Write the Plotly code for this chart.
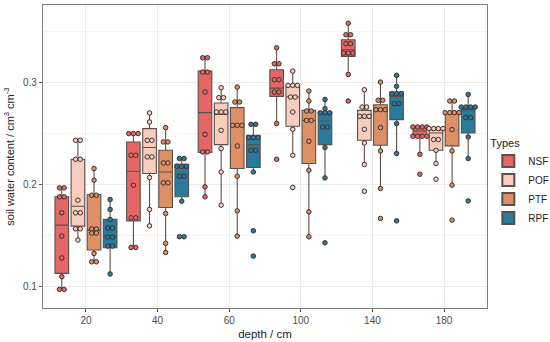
import plotly.graph_objects as go

depths = ["20", "40", "60", "100", "140", "180"]
types = ["NSF", "POF", "PTF", "RPF"]
colors = ["#E46766", "#F8CDBD", "#DD9066", "#2A7A9C"]

# box statistics (lower whisker, q1, median, q3, upper whisker) per depth
NSF_lo = [0.0967, 0.1385, 0.1876, 0.2595, 0.3078, 0.2294]
NSF_q1 = [0.1124, 0.1640, 0.2311, 0.2863, 0.3255, 0.2471]
NSF_med = [0.1598, 0.2127, 0.2703, 0.2944, 0.3320, 0.2523]
NSF_q3 = [0.1876, 0.2415, 0.3111, 0.3124, 0.3419, 0.2562]
NSF_hi = [0.1964, 0.2497, 0.3242, 0.3340, 0.3581, 0.2562]

POF_lo = [0.1451, 0.1591, 0.1794, 0.2284, 0.2193, 0.2203]
POF_q1 = [0.1588, 0.2105, 0.2389, 0.2569, 0.2431, 0.2333]
POF_med = [0.1784, 0.2360, 0.2686, 0.2856, 0.2654, 0.2503]
POF_q3 = [0.2245, 0.2546, 0.2798, 0.2971, 0.2725, 0.2536]
POF_hi = [0.2431, 0.2700, 0.2948, 0.3111, 0.2928, 0.2546]

PTF_lo = [0.1238, 0.1330, 0.1490, 0.1484, 0.1958, 0.1990]
PTF_q1 = [0.1353, 0.1771, 0.2154, 0.2203, 0.2382, 0.2376]
PTF_med = [0.1549, 0.2120, 0.2578, 0.2627, 0.2732, 0.2693]
PTF_q3 = [0.1899, 0.2333, 0.2752, 0.2725, 0.2781, 0.2703]
PTF_hi = [0.2154, 0.2556, 0.2954, 0.2915, 0.3003, 0.2817]

RPF_lo = [0.1118, 0.1833, 0.2120, 0.2062, 0.2301, 0.2252]
RPF_q1 = [0.1376, 0.1876, 0.2164, 0.2389, 0.2634, 0.2503]
RPF_med = [0.1490, 0.2160, 0.2389, 0.2621, 0.2863, 0.2732]
RPF_q3 = [0.1654, 0.2196, 0.2480, 0.2709, 0.2905, 0.2758]
RPF_hi = [0.1850, 0.2252, 0.2588, 0.2833, 0.3069, 0.2882]

# observations per depth
NSF_points = [
    [0.1964, 0.1964, 0.1876, 0.1876, 0.1719, 0.149, 0.1275, 0.1091, 0.0967, 0.0967],
    [0.2497, 0.2497, 0.2497, 0.2284, 0.2284, 0.199, 0.167, 0.167, 0.1379, 0.1379],
    [0.3242, 0.3242, 0.3101, 0.3101, 0.2905, 0.249, 0.2317, 0.2317, 0.1974, 0.1876],
    [0.334, 0.3183, 0.3183, 0.3026, 0.3026, 0.2905, 0.2905, 0.2595, 0.2245],
    [0.3581, 0.3468, 0.3468, 0.338, 0.338, 0.3288, 0.3288, 0.3288, 0.3078, 0.2817],
    [0.2562, 0.2562, 0.2562, 0.2562, 0.2471, 0.2471, 0.2471, 0.2471, 0.2294, 0.2098],
]
POF_points = [
    [0.2431, 0.2431, 0.2245, 0.2245, 0.1843, 0.1719, 0.1719, 0.1562, 0.1562, 0.1451],
    [0.27, 0.2611, 0.2431, 0.2431, 0.2268, 0.2268, 0.2066, 0.1752, 0.1591],
    [0.2948, 0.285, 0.285, 0.2709, 0.2709, 0.2709, 0.2529, 0.235, 0.212, 0.1794],
    [0.3111, 0.2971, 0.2971, 0.2971, 0.2856, 0.2856, 0.2709, 0.2539, 0.2284, 0.1968],
    [0.2928, 0.2758, 0.2758, 0.2667, 0.2667, 0.2667, 0.2539, 0.2405, 0.2193, 0.1931],
    [0.2546, 0.2546, 0.2546, 0.2546, 0.2438, 0.2438, 0.2333, 0.2203, 0.2049],
]
PTF_points = [
    [0.2154, 0.2039, 0.1892, 0.1892, 0.156, 0.156, 0.152, 0.152, 0.132, 0.1238, 0.1238],
    [0.2556, 0.2415, 0.2415, 0.2209, 0.2209, 0.2013, 0.2013, 0.1712, 0.1419, 0.133],
    [0.2954, 0.2807, 0.2807, 0.2578, 0.2578, 0.2578, 0.2375, 0.2078, 0.1738, 0.149],
    [0.2915, 0.2817, 0.2719, 0.2719, 0.2627, 0.2627, 0.2422, 0.2137, 0.1729, 0.1484],
    [0.3003, 0.2824, 0.2824, 0.2732, 0.2732, 0.2732, 0.2556, 0.2327, 0.1958, 0.1664],
    [0.2817, 0.2817, 0.2703, 0.2703, 0.2703, 0.2703, 0.2536, 0.2327, 0.199, 0.1647],
]
RPF_points = [
    [0.185, 0.1752, 0.1654, 0.157, 0.157, 0.148, 0.148, 0.1392, 0.1392, 0.1118],
    [0.2252, 0.2252, 0.2176, 0.2176, 0.2176, 0.2078, 0.2078, 0.1833, 0.1484, 0.1484],
    [0.2588, 0.2588, 0.2458, 0.2458, 0.2458, 0.2333, 0.2333, 0.212, 0.1542, 0.1294],
    [0.2833, 0.2742, 0.2701, 0.2701, 0.2701, 0.2562, 0.2562, 0.236, 0.2062, 0.1425],
    [0.3069, 0.2961, 0.2889, 0.2889, 0.2889, 0.2791, 0.2791, 0.2595, 0.2301, 0.164],
    [0.2882, 0.2758, 0.2758, 0.2758, 0.2758, 0.2654, 0.2654, 0.2464, 0.2252, 0.1836],
]

stats = {
    "NSF": (NSF_lo, NSF_q1, NSF_med, NSF_q3, NSF_hi, NSF_points),
    "POF": (POF_lo, POF_q1, POF_med, POF_q3, POF_hi, POF_points),
    "PTF": (PTF_lo, PTF_q1, PTF_med, PTF_q3, PTF_hi, PTF_points),
    "RPF": (RPF_lo, RPF_q1, RPF_med, RPF_q3, RPF_hi, RPF_points),
}

slot = 0.225
box_w = 0.19
tie_step = 0.065
edge = "#5b5049"

fig = go.Figure()
point_traces = []
for k, t in enumerate(types):
    lo, q1, med, q3, hi, pts = stats[t]
    off = (k - 1.5) * slot
    xs = [i + off for i in range(len(depths))]
    fig.add_trace(go.Box(
        x=xs, q1=q1, median=med, q3=q3, lowerfence=lo, upperfence=hi,
        width=box_w, name=t, fillcolor=colors[k],
        line=dict(color=edge, width=1.1), whiskerwidth=0,
        boxpoints=False, hoverinfo="skip",
    ))
    px, py = [], []
    for i, vals in enumerate(pts):
        counts = {}
        for v in vals:
            counts[v] = counts.get(v, 0) + 1
        for v, n in counts.items():
            for j in range(n):
                px.append(xs[i] + (j - (n - 1) / 2) * tie_step)
                py.append(v)
    point_traces.append(go.Scatter(
        x=px, y=py, mode="markers", showlegend=False, hoverinfo="skip",
        marker=dict(size=4.5, color=colors[k], line=dict(color="#3b3030", width=1)),
    ))
for tr in point_traces:
    fig.add_trace(tr)

fig.update_layout(
    width=550, height=342,
    margin=dict(l=43, r=63, t=5, b=34, autoexpand=False),
    paper_bgcolor="white", plot_bgcolor="white",
    font=dict(family="Liberation Sans, Arial, sans-serif", color="#222222"),
    boxmode="overlay",
    legend=dict(
        title=dict(text="Types", font=dict(size=11, color="#222")),
        x=1.003, xanchor="left", y=0.58, yanchor="top",
        bgcolor="rgba(0,0,0,0)",
        font=dict(size=10, color="#222"), tracegroupgap=0, itemsizing="constant",
        itemwidth=30,
    ),
)
fig.update_xaxes(
    range=[-0.6, 5.6], tickmode="array", tickvals=list(range(len(depths))),
    ticktext=depths, showgrid=True, gridcolor="#ebebeb", gridwidth=1,
    zeroline=False, showline=True, linecolor="#7f7f7f", linewidth=1.3, mirror=True,
    ticks="outside", ticklen=3, tickcolor="#555", tickfont=dict(size=10, color="#4d4d4d"),
    title=dict(text="depth / cm", font=dict(size=11.5, color="#222"), standoff=4),
)
fig.update_yaxes(
    range=[0.0784, 0.376], tickvals=[0.1, 0.2, 0.3], ticktext=["0.1", "0.2", "0.3"],
    showgrid=True, gridcolor="#ebebeb", gridwidth=1,
    minor=dict(tickvals=[0.15, 0.25, 0.35], showgrid=True, gridcolor="#f4f4f4", gridwidth=1),
    zeroline=False, showline=True, linecolor="#7f7f7f", linewidth=1.3, mirror=True,
    ticks="outside", ticklen=3, tickcolor="#555", tickfont=dict(size=10, color="#4d4d4d"),
    title=dict(text="soil water content / cm<sup>3</sup> cm<sup>-3</sup>",
               font=dict(size=11, color="#222"), standoff=6),
)

fig.write_html("out.html", config={"displayModeBar": False},
               post_script="document.body.style.margin='0';document.body.style.padding='0';")
